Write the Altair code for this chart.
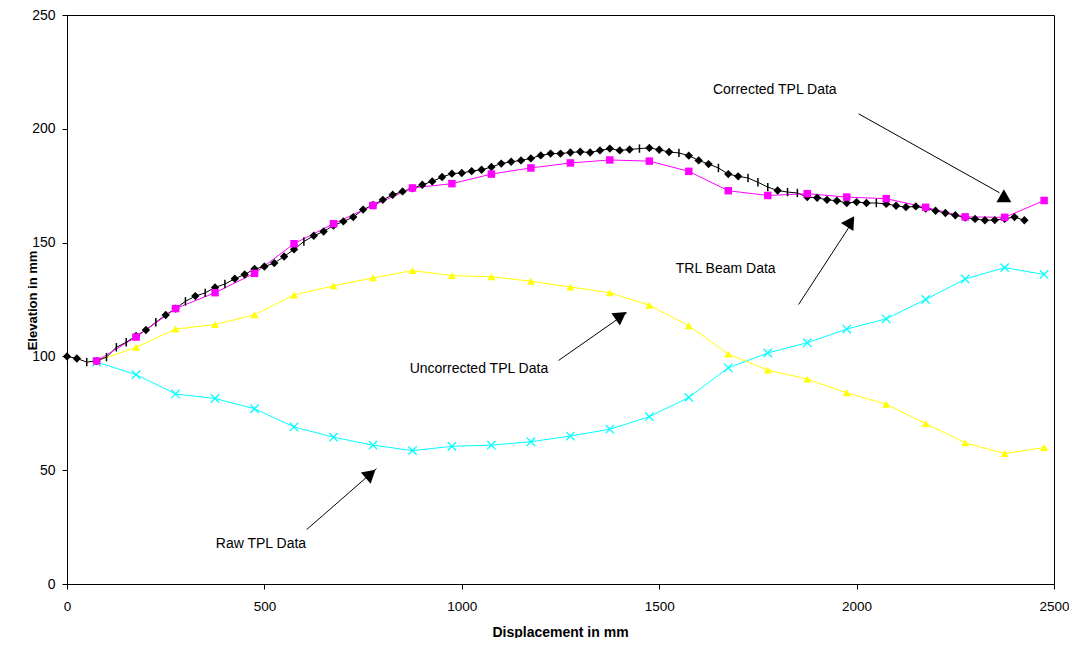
import altair as alt
import pandas as pd

# ---------------- data ----------------
beam_x = [0, 25, 50, 75, 100, 125, 150, 175, 200, 225, 250, 275, 300, 325, 350, 375, 400, 425, 450, 475,
          500, 525, 550, 575, 600, 625, 650, 675, 700, 725, 750, 775, 800, 825, 850, 875, 900, 925, 950, 975,
          1000, 1025, 1050, 1075, 1100, 1125, 1150, 1175, 1200, 1225, 1250, 1275, 1300, 1325, 1350, 1375, 1400, 1425, 1450, 1475,
          1500, 1525, 1550, 1575, 1600, 1625, 1650, 1675, 1700, 1725, 1750, 1775, 1800, 1825, 1850, 1875, 1900, 1925, 1950, 1975,
          2000, 2025, 2050, 2075, 2100, 2125, 2150, 2175, 2200, 2225, 2250, 2275, 2300, 2325, 2350, 2375, 2400, 2425]
beam_y = [100.0, 99.1, 97.5, 98.0, 99.7, 104.0, 106.2, 109.0, 111.6, 115.0, 118.2, 121.0, 124.2, 126.5, 127.9, 130.3, 131.8, 134.1, 136.0, 138.4,
          139.5, 141.0, 143.9, 147.0, 150.5, 153.0, 154.9, 157.5, 159.3, 161.2, 164.5, 166.5, 168.8, 171.0, 172.5, 173.8, 175.4, 176.9, 178.8, 180.3,
          180.6, 181.4, 182.0, 183.2, 184.7, 185.5, 186.1, 187.0, 188.3, 189.1, 189.1, 189.6, 189.9, 189.6, 190.5, 191.3, 190.5, 190.9, 191.3, 191.6,
          190.8, 189.8, 189.4, 188.2, 186.1, 184.5, 182.8, 180.1, 179.1, 178.4, 176.5, 174.4, 172.9, 172.2, 171.8, 170.0, 169.7, 168.8, 168.4, 167.4,
          167.8, 167.4, 167.4, 167.0, 166.2, 165.6, 165.9, 165.0, 164.0, 163.0, 162.0, 161.0, 160.4, 159.8, 159.9, 160.5, 161.2, 159.8]
# points of the beam series drawn with a "+" marker instead of a diamond
beam_tick_x = [50, 100, 125, 150, 225, 300, 350, 400, 600, 1450, 1550, 1650, 1725, 1750, 1775, 1825, 1850, 2050]

tpl_x = [75, 175, 275, 375, 475, 575, 675, 775, 875, 975, 1075, 1175, 1275, 1375, 1475,
         1575, 1675, 1775, 1875, 1975, 2075, 2175, 2275, 2375, 2475]
corrected_y = [98.0, 108.5, 121.0, 128.0, 136.5, 149.5, 158.3, 166.3, 174.0, 175.9, 180.1, 182.8, 185.0, 186.3, 185.8,
               181.3, 172.8, 170.7, 171.5, 170.0, 169.3, 165.5, 161.3, 161.1, 168.5]
uncorrected_y = [98.0, 104.0, 112.0, 114.0, 118.3, 127.0, 131.0, 134.5, 137.7, 135.5, 135.0, 133.0, 130.5, 128.0, 122.5,
                 113.5, 101.0, 94.0, 90.0, 84.0, 79.0, 70.5, 62.0, 57.3, 60.0]
raw_y = [97.5, 92.0, 83.5, 81.5, 77.0, 69.0, 64.5, 61.0, 58.6, 60.5, 61.0, 62.5, 65.0, 68.0, 73.5,
         82.0, 95.0, 101.5, 106.0, 112.0, 116.5, 125.0, 134.0, 139.0, 136.0]

x_ticks = [0, 500, 1000, 1500, 2000, 2500]
y_ticks = [0, 50, 100, 150, 200, 250]

# annotations (data units)
label_text = ["Corrected TPL Data", "TRL Beam Data", "Uncorrected TPL Data", "Raw TPL Data"]
label_x = [1636, 1542, 868, 377]
label_y = [217.2, 138.5, 94.6, 17.7]
arrow_x1 = [2005, 1853, 1245, 607]
arrow_y1 = [206.6, 122.8, 98.2, 23.9]
arrow_x2 = [2362, 1993, 1418, 784]
arrow_y2 = [171.9, 160.0, 119.2, 50.7]
head_x = [2373, 1985, 1403, 769]
head_y = [170.6, 159.2, 117.9, 48.4]
head_angle = [0, 33, 55, 49]

# ---------------- tables ----------------
beam = pd.DataFrame({"x": beam_x, "y": beam_y})
beam["marker"] = ["tick" if v in beam_tick_x else "diamond" for v in beam_x]
tpl = pd.DataFrame({"x": tpl_x, "corr": corrected_y, "unc": uncorrected_y, "raw": raw_y})
labels = pd.DataFrame({"x": label_x, "y": label_y, "t": label_text})
arrows = pd.DataFrame({"x": arrow_x1, "y": arrow_y1, "x2": arrow_x2, "y2": arrow_y2})
heads = pd.DataFrame({"x": head_x, "y": head_y, "a": head_angle})

FONT = "Liberation Sans"
xs = alt.Scale(domain=[0, 2500], nice=False, zero=False)
ys = alt.Scale(domain=[0, 250], nice=False, zero=False)

x_axis = alt.Axis(title="Displacement in mm", values=x_ticks, grid=False, tickSize=5, labelPadding=10,
                  labelFontSize=13.5, labelFont=FONT, labelColor="black", labelFlush=False,
                  titleFontSize=14, titleFont=FONT, titleFontWeight="bold", titleColor="black",
                  titleX=493, titleY=48, titleBaseline="middle",
                  domainColor="black", tickColor="black", format="d")
y_axis = alt.Axis(title="Elevation in mm", values=y_ticks, grid=False, tickSize=5, labelPadding=7,
                  labelFontSize=14, labelFont=FONT, labelColor="black", labelFlush=False,
                  titleFontSize=13, titleFont=FONT, titleFontWeight="bold", titleColor="black",
                  titleX=-35, titleY=285, titleBaseline="middle", titleAngle=-90,
                  domainColor="black", tickColor="black", format="d")


def X(f="x"):
    return alt.X(f"{f}:Q", scale=xs, axis=x_axis)


def Y(f):
    return alt.Y(f"{f}:Q", scale=ys, axis=y_axis)


XPATH = "M-1,-1L1,1M1,-1L-1,1"
VPATH = "M0,-1L0,1"

raw_line = alt.Chart(tpl).mark_line(color="#00FFFF", strokeWidth=1).encode(x=X(), y=Y("raw"))
raw_pts = alt.Chart(tpl).mark_point(shape=XPATH, filled=False, color="#00FFFF", strokeWidth=1.3, size=70,
                                    opacity=1).encode(x=X(), y=Y("raw"))

unc_line = alt.Chart(tpl).mark_line(color="#FFFF00", strokeWidth=1).encode(x=X(), y=Y("unc"))
unc_pts = alt.Chart(tpl).mark_point(shape="triangle-up", filled=True, color="#FFFF00", size=64,
                                    opacity=1).encode(x=X(), y=Y("unc"))

beam_line = alt.Chart(beam).mark_line(color="black", strokeWidth=1).encode(x=X(), y=Y("y"))
corr_line = alt.Chart(tpl).mark_line(color="#FF00FF", strokeWidth=1).encode(x=X(), y=Y("corr"))

beam_dia = alt.Chart(beam).transform_filter(alt.datum.marker == "diamond").mark_point(
    shape="diamond", filled=True, color="black", size=70, opacity=1).encode(x=X(), y=Y("y"))
beam_tick = alt.Chart(beam).transform_filter(alt.datum.marker == "tick").mark_point(
    shape=VPATH, filled=False, color="black", strokeWidth=1.5, size=70, opacity=1).encode(x=X(), y=Y("y"))

corr_pts = alt.Chart(tpl).mark_point(shape="square", filled=True, color="#FF00FF", size=56,
                                     opacity=1).encode(x=X(), y=Y("corr"))

arrow_lines = alt.Chart(arrows).mark_rule(color="black", strokeWidth=1).encode(
    x=X(), y=Y("y"), x2="x2:Q", y2="y2:Q")
arrow_heads = alt.Chart(heads).mark_point(shape="triangle-up", filled=True, color="black", size=220,
                                          opacity=1).encode(
    x=X(), y=Y("y"), angle=alt.Angle("a:Q", scale=None))
label_marks = alt.Chart(labels).mark_text(align="left", baseline="middle", font=FONT, fontSize=14,
                                          color="black").encode(x=X(), y=Y("y"), text="t:N")

chart = alt.layer(
    raw_line, raw_pts, unc_line, unc_pts, beam_line, corr_line, beam_dia, beam_tick, corr_pts,
    arrow_lines, arrow_heads, label_marks
).properties(
    width=987, height=569,
    autosize=alt.AutoSizeParams(type="none"),
    padding={"left": 59, "top": 7, "right": 15, "bottom": 54},
    background="white",
).configure_view(stroke="black", strokeWidth=1)

chart.save("out.html", embed_options={"renderer": "svg", "actions": False})
